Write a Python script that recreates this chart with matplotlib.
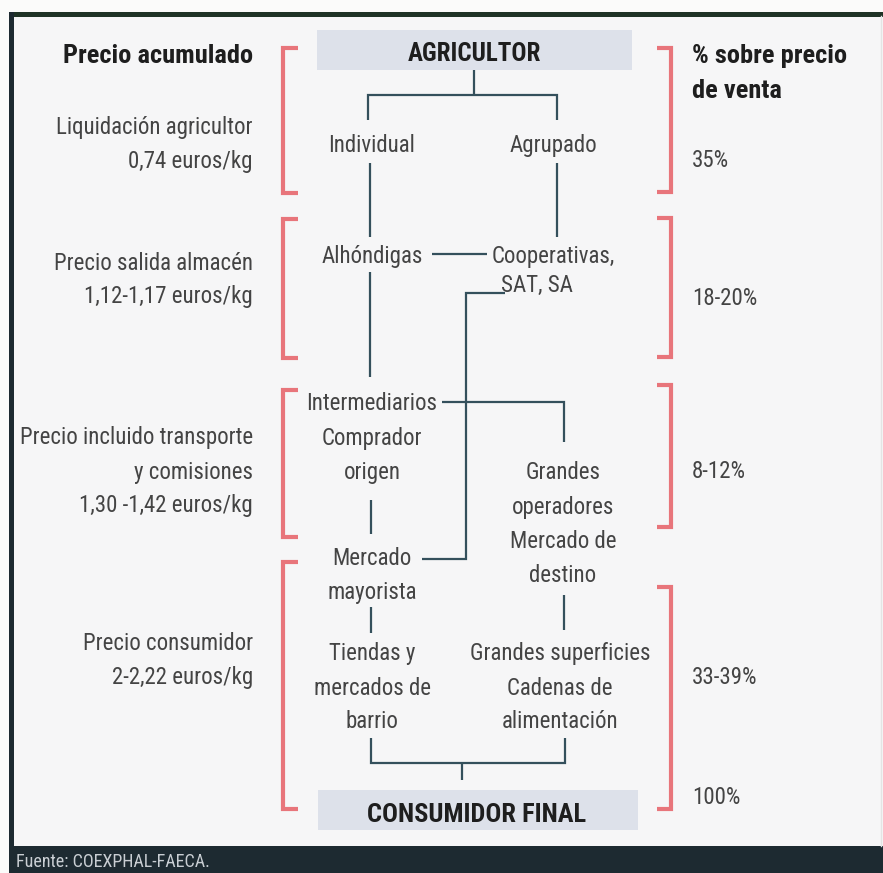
import matplotlib
matplotlib.use("Agg")
import matplotlib.pyplot as plt
from matplotlib.patches import Rectangle

FONT = ["Roboto Condensed", "DejaVu Sans"]

# ---- content ----
header_left = "Precio acumulado"
header_right = ["% sobre precio", "de venta"]
top_node = "AGRICULTOR"
bottom_node = "CONSUMIDOR FINAL"
source = "Fuente: COEXPHAL-FAECA."

price_labels = [
    ["Liquidación agricultor", "0,74 euros/kg"],
    ["Precio salida almacén", "1,12-1,17 euros/kg"],
    ["Precio incluido transporte", "y comisiones", "1,30 -1,42 euros/kg"],
    ["Precio consumidor", "2-2,22 euros/kg"],
]
share_labels = ["35%", "18-20%", "8-12%", "33-39%", "100%"]

nodes = [
    ["Individual"], ["Agrupado"],
    ["Alhóndigas"], ["Cooperativas,"], ["SAT, SA"],
    ["Intermediarios", "Comprador", "origen"],
    ["Mercado", "mayorista"],
    ["Grandes", "operadores", "Mercado de", "destino"],
    ["Tiendas y", "mercados de", "barrio"],
    ["Grandes superficies", "Cadenas de", "alimentación"],
]

# ---- layout (pixel coordinates) ----
W, H = 883, 873
price_baselines = [[134, 168], [270, 303], [444, 479, 512], [650, 684]]
share_baselines = [167, 305, 478, 684, 804]
node_pos = [
    (372, [152]), (553, [152]),
    (372, [263]), (553, [263]), (537, [292]),
    (372, [410, 445, 479]),
    (372, [565, 599]),
    (563, [479, 514, 548, 582]),
    (372, [660, 695, 728]),
    (560, [660, 695, 728]),
]
left_brackets = [(48, 193), (219, 358), (390, 537), (562, 809)]
right_brackets = [(48, 192), (218, 357), (385, 527), (587, 809)]
connectors = [
    [(474, 70), (474, 95)],
    [(368, 120), (368, 95), (557, 95), (557, 120)],
    [(370, 163), (370, 237)],
    [(557, 163), (557, 237)],
    [(432, 254), (487, 254)],
    [(505, 293), (466, 293), (466, 559), (422, 559)],
    [(370, 272), (370, 377)],
    [(442, 402), (564, 402), (564, 442)],
    [(371, 500), (371, 534)],
    [(371, 607), (371, 633)],
    [(564, 595), (564, 630)],
    [(371, 738), (371, 763), (565, 763), (565, 738)],
    [(462, 763), (462, 780)],
]

LINE = "#34505c"
RED = "#e8757b"
TXT = "#444444"
BOLD = "#1e1e1e"
BOX = "#dde1ea"
DARK = "#1d2a31"
REG = 16.5

fig = plt.figure(figsize=(W / 100, H / 100), dpi=100)
fig.patch.set_facecolor("#fbfbfa")
ax = fig.add_axes([0, 0, 1, 1])
ax.set_xlim(0, W); ax.set_ylim(H, 0); ax.axis("off")

# frame
ax.add_patch(Rectangle((13, 16), W - 13, 830, facecolor="#f6f6f7", edgecolor="none"))
ax.add_patch(Rectangle((9, 12), W - 9, 4.5, facecolor="#1f3326", edgecolor="none"))
ax.add_patch(Rectangle((9, 12), 4.5, H - 12, facecolor=DARK, edgecolor="none"))
ax.add_patch(Rectangle((9, 846), W - 9, H - 846, facecolor=DARK, edgecolor="none"))
ax.plot([880.5, 880.5], [16, 846], color="#e4e4e4", lw=1)
ax.text(16, 867, source, family=FONT, fontsize=13, color="#c9ced3", ha="left", va="baseline")

# node boxes
ax.add_patch(Rectangle((317, 30), 315, 40, facecolor=BOX, edgecolor="none"))
ax.add_patch(Rectangle((318, 790), 320, 40, facecolor=BOX, edgecolor="none"))
ax.text(474, 61, top_node, family=FONT, fontsize=18, weight="bold", color=BOLD, ha="center", va="baseline")
ax.text(477, 822, bottom_node, family=FONT, fontsize=19, weight="bold", color=BOLD, ha="center", va="baseline")

# headers
ax.text(253, 63, header_left, family=FONT, fontsize=19, weight="bold", color=BOLD, ha="right", va="baseline")
for line, yb in zip(header_right, [63, 98]):
    ax.text(692, yb, line, family=FONT, fontsize=19, weight="bold", color=BOLD, ha="left", va="baseline")

# price labels (left)
for lines, ybs in zip(price_labels, price_baselines):
    for line, yb in zip(lines, ybs):
        ax.text(253, yb, line, family=FONT, fontsize=REG, color=TXT, ha="right", va="baseline")

# share labels (right)
for lab, yb in zip(share_labels, share_baselines):
    ax.text(692, yb, lab, family=FONT, fontsize=REG, color=TXT, ha="left", va="baseline")

# nodes
for lines, (xc, ybs) in zip(nodes, node_pos):
    for line, yb in zip(lines, ybs):
        ax.text(xc, yb, line, family=FONT, fontsize=REG, color=TXT, ha="center", va="baseline")

# connectors
for seg in connectors:
    xs, ys = zip(*seg)
    ax.plot(xs, ys, color=LINE, lw=1.6, solid_capstyle="butt", solid_joinstyle="miter")

# brackets
for y0, y1 in left_brackets:
    ax.plot([298, 283, 283, 298], [y0, y0, y1, y1], color=RED, lw=3, solid_capstyle="butt", solid_joinstyle="miter")
for y0, y1 in right_brackets:
    ax.plot([657, 671, 671, 657], [y0, y0, y1, y1], color=RED, lw=3, solid_capstyle="butt", solid_joinstyle="miter")

fig.savefig("out.png", dpi=100, facecolor=fig.get_facecolor())
